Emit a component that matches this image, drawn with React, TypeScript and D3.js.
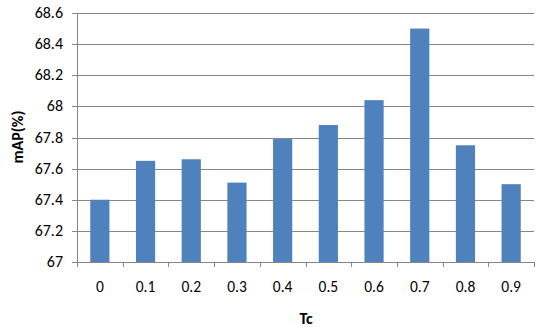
import { useEffect, useRef } from "react";
import * as d3 from "d3";

const categories = ["0", "0.1", "0.2", "0.3", "0.4", "0.5", "0.6", "0.7", "0.8", "0.9"];
const mapValues = [67.4, 67.65, 67.66, 67.51, 67.79, 67.88, 68.04, 68.5, 67.75, 67.5];
const yTicks = [67, 67.2, 67.4, 67.6, 67.8, 68, 68.2, 68.4, 68.6];

export default function App() {
  const ref = useRef<SVGSVGElement>(null);

  useEffect(() => {
    const width = 550;
    const height = 327;
    const margin = { top: 13, right: 16, bottom: 65, left: 77 };

    const svg = d3.select(ref.current);
    svg.selectAll("*").remove();
    svg.attr("viewBox", `0 0 ${width} ${height}`);

    const font = "Calibri, Carlito, 'Liberation Sans', Arial, sans-serif";

    const x = d3
      .scaleBand()
      .domain(categories)
      .range([margin.left, width - margin.right])
      .paddingInner(0.58)
      .paddingOuter(0.29);

    const y = d3
      .scaleLinear()
      .domain([67, 68.6])
      .range([height - margin.bottom, margin.top]);

    // gridlines
    svg
      .append("g")
      .selectAll("line")
      .data(yTicks.slice(1))
      .join("line")
      .attr("x1", margin.left)
      .attr("x2", width - margin.right)
      .attr("y1", (d) => Math.round(y(d)) + 0.5)
      .attr("y2", (d) => Math.round(y(d)) + 0.5)
      .attr("stroke", "#868686")
      .attr("stroke-width", 1);

    svg
      .append("g")
      .selectAll("rect")
      .data(mapValues)
      .join("rect")
      .attr("x", (_, i) => x(categories[i])!)
      .attr("y", (d) => y(d))
      .attr("width", x.bandwidth())
      .attr("height", (d) => y(67) - y(d))
      .attr("fill", "#4f81bd");

    const step = x.step();
    const xTickPos = d3.range(categories.length + 1).map((i) => margin.left + i * step);

    const xAxis = svg.append("g");
    xAxis
      .append("line")
      .attr("x1", margin.left)
      .attr("x2", width - margin.right)
      .attr("y1", Math.round(y(67)) + 0.5)
      .attr("y2", Math.round(y(67)) + 0.5)
      .attr("stroke", "#868686");
    xAxis
      .selectAll("line.tick")
      .data(xTickPos)
      .join("line")
      .attr("class", "tick")
      .attr("x1", (d) => Math.round(d) + 0.5)
      .attr("x2", (d) => Math.round(d) + 0.5)
      .attr("y1", Math.round(y(67)))
      .attr("y2", Math.round(y(67)) + 5)
      .attr("stroke", "#868686");
    xAxis
      .selectAll("text")
      .data(categories)
      .join("text")
      .attr("x", (d) => x(d)! + x.bandwidth() / 2)
      .attr("y", 292)
      .attr("text-anchor", "middle")
      .attr("font-family", font)
      .attr("font-size", 15.5)
      .attr("fill", "#000")
      .text((d) => d);

    const yAxis = svg.append("g");
    yAxis
      .append("line")
      .attr("x1", margin.left + 0.5)
      .attr("x2", margin.left + 0.5)
      .attr("y1", y(68.6))
      .attr("y2", y(67))
      .attr("stroke", "#868686");
    yAxis
      .selectAll("line.tick")
      .data(yTicks)
      .join("line")
      .attr("class", "tick")
      .attr("x1", margin.left - 5)
      .attr("x2", margin.left)
      .attr("y1", (d) => Math.round(y(d)) + 0.5)
      .attr("y2", (d) => Math.round(y(d)) + 0.5)
      .attr("stroke", "#868686");
    yAxis
      .selectAll("text")
      .data(yTicks)
      .join("text")
      .attr("x", 63)
      .attr("y", (d) => y(d) + 5)
      .attr("text-anchor", "end")
      .attr("font-family", font)
      .attr("font-size", 16)
      .attr("fill", "#000")
      .text((d) => d3.format("~g")(d));

    svg
      .append("text")
      .attr("x", 306)
      .attr("y", 324)
      .attr("text-anchor", "middle")
      .attr("font-family", font)
      .attr("font-size", 16)
      .attr("font-weight", "bold")
      .text("Tc");

    svg
      .append("text")
      .attr("transform", "translate(23,137) rotate(-90)")
      .attr("text-anchor", "middle")
      .attr("font-family", font)
      .attr("font-size", 16)
      .attr("font-weight", "bold")
      .text("mAP(%)");
  }, []);

  return (
    <svg
      ref={ref}
      width={550}
      height={327}
      style={{ position: "absolute", left: 0, top: 0, background: "#fff" }}
    />
  );
}
